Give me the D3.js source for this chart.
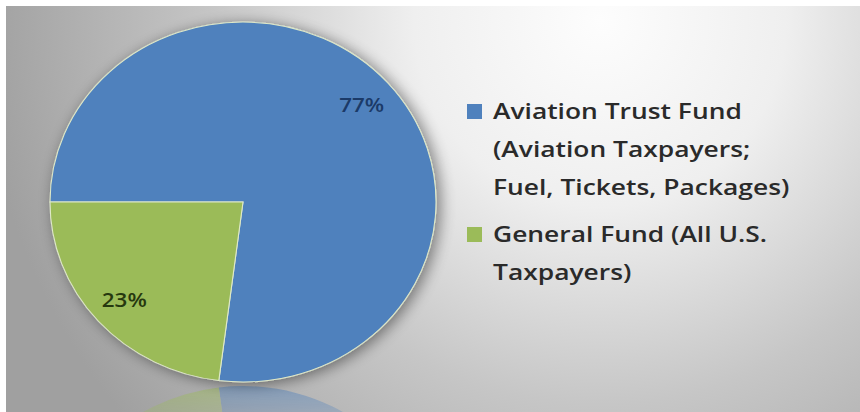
<!DOCTYPE html>
<html>
<head>
<meta charset="utf-8">
<script src="https://cdn.jsdelivr.net/npm/d3@7"></script>
<style>
  html, body { margin: 0; padding: 0; background: #fff; }
  svg { display: block; }
  text { font-variant-ligatures: none; }
</style>
</head>
<body>
<svg id="chart" width="860" height="412"></svg>
<script>
// Funding sources -- pie with legend

var categories = ["Aviation Trust Fund", "General Fund"];
var shares = [77, 23];
var colors = ["#4f81bd", "#9bbb59"];
var labelColors = ["#1b3a68", "#26380f"];
var legendLines = [
  ["Aviation Trust Fund", "(Aviation Taxpayers;", "Fuel, Tickets, Packages)"],
  ["General Fund (All U.S.", "Taxpayers)"]
];

var W = 860, H = 412;
var cx = 243, cy = 202, rx = 193, ry = 180;
// the source picture is stretched sideways a little, text too
var stretch = rx / ry;

var svg = d3.select("#chart");
var defs = svg.append("defs");

// backdrop: light glow top right, grey toward the left
var bg = defs.append("radialGradient")
  .attr("id", "bg")
  .attr("gradientUnits", "userSpaceOnUse")
  .attr("cx", 600).attr("cy", 20).attr("r", 620);
bg.append("stop").attr("offset", 0).attr("stop-color", "#fdfdfd");
bg.append("stop").attr("offset", 0.3).attr("stop-color", "#efefef");
bg.append("stop").attr("offset", 0.62).attr("stop-color", "#c6c6c6");
bg.append("stop").attr("offset", 1).attr("stop-color", "#a0a0a0");

var shadow = defs.append("filter").attr("id", "shadow")
  .attr("x", "-20%").attr("y", "-20%").attr("width", "140%").attr("height", "140%");
shadow.append("feGaussianBlur").attr("in", "SourceAlpha").attr("stdDeviation", 7);
shadow.append("feOffset").attr("dx", 4).attr("dy", 2).attr("result", "b");
shadow.append("feComponentTransfer").append("feFuncA").attr("type", "linear").attr("slope", 0.45);
var merge = shadow.append("feMerge");
merge.append("feMergeNode");
merge.append("feMergeNode").attr("in", "SourceGraphic");

var fade = defs.append("linearGradient").attr("id", "fade")
  .attr("x1", 0).attr("y1", 0).attr("x2", 0).attr("y2", 1);
fade.append("stop").attr("offset", 0).attr("stop-color", "#fff").attr("stop-opacity", 0.5);
fade.append("stop").attr("offset", 1).attr("stop-color", "#fff").attr("stop-opacity", 0);
defs.append("mask").attr("id", "reflMask")
  .append("rect").attr("x", 0).attr("y", cy + ry + 2).attr("width", W).attr("height", 60)
  .attr("fill", "url(#fade)");

svg.append("rect")
  .attr("x", 6).attr("y", 6).attr("width", W - 6).attr("height", H - 6)
  .attr("fill", "url(#bg)");

var pie = d3.pie().sort(null).startAngle(-Math.PI / 2).endAngle(1.5 * Math.PI);
var arcs = pie(shares);
var arc = d3.arc().innerRadius(0).outerRadius(ry);
var labelArc = d3.arc().innerRadius(ry * 0.82).outerRadius(ry * 0.82);

// reflection under the pie
svg.append("g")
  .attr("mask", "url(#reflMask)")
  .append("g")
  .attr("transform", "translate(" + cx + "," + (2 * (cy + ry) + 4 - cy) + ") scale(" + stretch + ",-1)")
  .selectAll("path")
  .data(arcs)
  .join("path")
  .attr("d", arc)
  .attr("fill", function (d, i) { return colors[i]; });

var pg = svg.append("g")
  .attr("transform", "translate(" + cx + "," + cy + ")");

pg.append("g")
  .attr("filter", "url(#shadow)")
  .attr("transform", "scale(" + stretch + ",1)")
  .selectAll("path")
  .data(arcs)
  .join("path")
  .attr("d", arc)
  .attr("fill", function (d, i) { return colors[i]; })
  .attr("stroke", "#dfe9c8")
  .attr("stroke-width", 1);

pg.selectAll("text.pct")
  .data(arcs)
  .join("text")
  .attr("class", "pct")
  .attr("transform", function (d) {
    var c = labelArc.centroid(d);
    return "translate(" + (c[0] * stretch) + "," + c[1] + ") scale(1.12,1)";
  })
  .attr("dy", "0.36em")
  .attr("text-anchor", "middle")
  .attr("font-family", "'Open Sans', sans-serif")
  .attr("font-weight", 600)
  .attr("font-size", 20)
  .attr("fill", function (d, i) { return labelColors[i]; })
  .text(function (d) { return d.data + "%"; });

// legend
var lg = svg.append("g")
  .attr("font-family", "'Open Sans', sans-serif")
  .attr("font-weight", 600)
  .attr("font-size", 22)
  .attr("fill", "#2a2a2a");
var entryY = [119, 242];
legendLines.forEach(function (lines, i) {
  lg.append("rect")
    .attr("x", 467).attr("y", entryY[i] - 15)
    .attr("width", 15).attr("height", 15)
    .attr("fill", colors[i]);
  lines.forEach(function (t, j) {
    lg.append("text")
      .attr("class", "leg")
      .attr("transform", "translate(493," + (entryY[i] + j * 38) + ")")
      .text(t);
  });
});

// widen the legend lines so the first one spans the same width as the source
var first = lg.select("text.leg").node().getComputedTextLength();
var sx = 249 / first;
lg.selectAll("text.leg").each(function () {
  var t = d3.select(this);
  t.attr("transform", t.attr("transform") + " scale(" + sx + ",1)");
});
</script>
</body>
</html>
